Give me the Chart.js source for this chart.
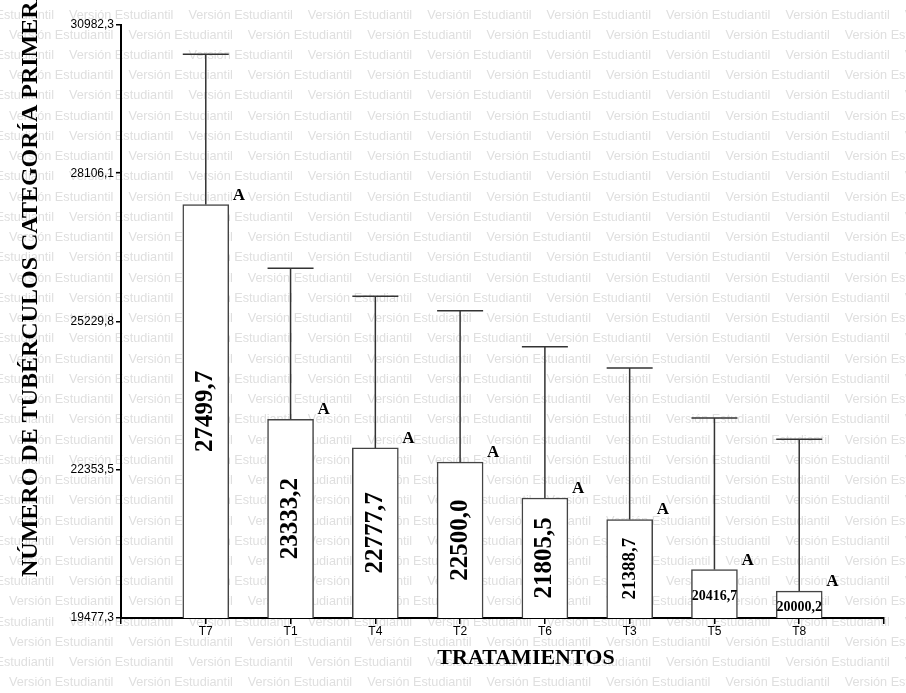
<!DOCTYPE html>
<html>
<head>
<meta charset="utf-8">
<script src="https://cdn.jsdelivr.net/npm/chart.js@4.4.1/dist/chart.umd.min.js"></script>
<style>
  html, body { margin: 0; padding: 0; background: #fff; }
  #wrap { width: 906px; height: 693px; }
</style>
</head>
<body>
<div id="wrap"><canvas id="grafico" width="906" height="693"></canvas></div>
<script>
// tratamientos y medias (tubérculos de primera)
const tratamientos = ['T7', 'T1', 'T4', 'T2', 'T6', 'T3', 'T5', 'T8'];
const medias = [27499.7, 23333.2, 22777.7, 22500.0, 21805.5, 21388.7, 20416.7, 20000.2];
const limiteSup = [30416, 26265, 25722, 25437, 24739, 24326, 23356, 22943];
const letras = ['A', 'A', 'A', 'A', 'A', 'A', 'A', 'A'];
const ticksY = [19477.3, 22353.5, 25229.8, 28106.1, 30982.3];
const ticksYTexto = ['19477,3', '22353,5', '25229,8', '28106,1', '30982,3'];

const ctx = document.getElementById('grafico');

// fondo "Versión Estudiantil"
const marcaAgua = {
	id: 'marcaAgua',
	beforeDraw(chart) {
		const c = chart.ctx;
		c.save();
		c.fillStyle = '#fff';
		c.fillRect(0, 0, chart.width, chart.height);
		c.font = '12.7px "Liberation Sans", Arial, sans-serif';
		c.fillStyle = '#dfdfdf';
		c.textBaseline = 'middle';
		for (let k = 0; k < 36; k++) {
			const y = 15 + k * 20.24;
			let x0 = (k % 2 == 0 ? 69 : 9) - 119.4;
			for (let x = x0; x < chart.width; x += 119.4) {
				c.fillText('Versión Estudiantil', x, y);
			}
		}
		c.restore();
	}
};

// barras de error, letras, valores y títulos de ejes
const extras = {
	id: 'extras',
	afterDatasetsDraw(chart) {
		const c = chart.ctx;
		const yS = chart.scales.y;
		const barras = chart.getDatasetMeta(0).data;
		const base = yS.getPixelForValue(ticksY[0]);
		c.save();
		for (let i = 0; i < tratamientos.length; i++) {
			const b = barras[i + 1];
			const w = b.width;
			const yTop = yS.getPixelForValue(limiteSup[i]);
			// error
			c.strokeStyle = '#333';
			c.lineWidth = 1.5;
			c.beginPath();
			c.moveTo(b.x, b.y);
			c.lineTo(b.x, yTop);
			c.moveTo(b.x - w / 2, yTop);
			c.lineTo(b.x + w / 2, yTop);
			c.stroke();
			// letra
			c.fillStyle = '#000';
			c.font = 'bold 17px "Liberation Serif", "Times New Roman", serif';
			c.textAlign = 'left';
			c.textBaseline = 'alphabetic';
			c.fillText(letras[i], b.x + w / 2 + 4, b.y - 5);
			// valor
			const txt = medias[i].toFixed(1).replace('.', ',');
			const h = base - b.y;
			const cy = (base + b.y) / 2;
			c.textAlign = 'center';
			c.textBaseline = 'middle';
			if (h >= 80) {
				const size = h >= 110 ? 25 : 19;
				c.font = 'bold ' + size + 'px "Liberation Serif", "Times New Roman", serif';
				c.save();
				c.translate(b.x, cy);
				c.rotate(-Math.PI / 2);
				c.fillText(txt, 0, 0);
				c.restore();
			} else {
				c.font = 'bold 14px "Liberation Serif", "Times New Roman", serif';
				c.fillText(txt, b.x, cy + 3);
			}
		}
		// titulos
		c.fillStyle = '#000';
		c.font = 'bold 22px "Liberation Serif", "Times New Roman", serif';
		c.textAlign = 'center';
		c.textBaseline = 'alphabetic';
		c.fillText('TRATAMIENTOS', 526, 664);
		c.save();
		c.translate(37, 577);
		c.rotate(-Math.PI / 2);
		c.textAlign = 'left';
		c.font = 'bold 24px "Liberation Serif", "Times New Roman", serif';
		c.fillText('NÚMERO DE TUBÉRCULOS CATEGORÍA PRIMERA', 0, 0);
		c.restore();
		c.restore();
	}
};

new Chart(ctx, {
	type: 'bar',
	data: {
		labels: [''].concat(tratamientos, ['']),
		datasets: [{
			data: [null].concat(medias, [null]),
			backgroundColor: '#fff',
			borderColor: '#444',
			borderWidth: 1.5,
			barThickness: 46
		}]
	},
	options: {
		responsive: false,
		animation: false,
		layout: { padding: { top: 25, right: 22, left: 0, bottom: 0 } },
		plugins: {
			legend: { display: false },
			tooltip: { enabled: false }
		},
		scales: {
			x: {
				offset: false,
				grid: { offset: false, drawOnChartArea: false, tickLength: 6, color: '#000', lineWidth: 1.5 },
				border: { color: '#000', width: 2 },
				ticks: {
					color: '#000',
					font: { family: '"Liberation Sans", Arial, sans-serif', size: 12 },
					padding: 0,
					maxRotation: 0,
					autoSkip: false
				},
				afterFit: s => { s.height = 75; }
			},
			y: {
				min: ticksY[0],
				max: ticksY[ticksY.length - 1],
				afterBuildTicks: s => { s.ticks = ticksY.map(v => ({ value: v })); },
				grid: { drawOnChartArea: false, tickLength: 5, color: '#000', lineWidth: 1.5 },
				border: { color: '#000', width: 2 },
				ticks: {
					color: '#000',
					font: { family: '"Liberation Sans", Arial, sans-serif', size: 12 },
					padding: 2,
					callback: (v, i) => ticksYTexto[i]
				},
				afterFit: s => { s.width = 121; }
			}
		}
	},
	plugins: [marcaAgua, extras]
});
</script>
</body>
</html>
